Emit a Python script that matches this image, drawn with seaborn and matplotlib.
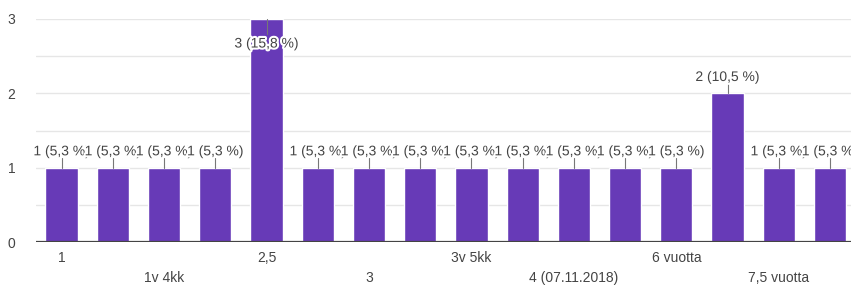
import numpy as np
import pandas as pd
import matplotlib
matplotlib.use("Agg")
import matplotlib.pyplot as plt
import matplotlib.patheffects as pe
import seaborn as sns

# answer counts per bar (19 responses in total)
counts = [1, 1, 1, 1, 3, 1, 1, 1, 1, 1, 1, 1, 1, 2, 1, 1]
total = 19
# only every second category name is printed on the axis
shown_labels = ["1", "1v 4kk", "2,5", "3", "3v 5kk", "4 (07.11.2018)", "6 vuotta", "7,5 vuotta"]

sns.set_style("white")
plt.rcParams["font.family"] = ["Liberation Sans", "DejaVu Sans"]

df = pd.DataFrame({"pos": np.arange(len(counts)), "count": counts})

fig = plt.figure(figsize=(8.51, 2.88), dpi=100)
ax = fig.add_axes([36 / 851, 46 / 288, 1 - 36 / 851, 223 / 288])

sns.barplot(data=df, x="pos", y="count", color="#673ab7", saturation=1,
            width=0.63, ax=ax, zorder=3)

ax.set_xlim(-0.5, 15.41)
ax.set_ylim(0, 3)

# grid every 0.5, labels only on whole numbers
for y in np.arange(0.5, 3.01, 0.5):
    ax.axhline(y, color="#e6e6e6", lw=1, zorder=1)
ax.axhline(0, color="#444444", lw=1.6, zorder=4)
ax.set_yticks([0, 1, 2, 3])
ax.set_yticklabels(["0", "1", "2", "3"], color="#444444", fontsize=10)
ax.tick_params(axis="y", length=0, pad=15)
ax.set_xticks([])
ax.set_xlabel("")
ax.set_ylabel("")
sns.despine(ax=ax, left=True, bottom=True, top=True, right=True)

# category names in two staggered rows
for i, lbl in enumerate(shown_labels):
    x = i * 2
    y = -0.22 if i % 2 == 0 else -0.49
    ax.text(x, y, lbl, ha="center", va="center", fontsize=10,
            color="#444444", clip_on=False)

# value labels with leader lines
halo = [pe.withStroke(linewidth=3, foreground="white")]
for i, c in enumerate(counts):
    pct = f"{c / total * 100:.1f}".replace(".", ",")
    txt = f"{c} ({pct} %)"
    if c == 3:
        ax.plot([i, i], [3.0, 2.8], color="#777777", lw=0.8, zorder=5)
        ty = 2.67
    else:
        ax.plot([i, i], [c, c + 0.13], color="#777777", lw=0.8, zorder=5)
        ty = c + 0.22
    ax.text(i, ty, txt, ha="center", va="center", fontsize=10,
            color="#444444", zorder=6, path_effects=halo, clip_on=False)

fig.savefig("out.png", dpi=100, facecolor="white")
